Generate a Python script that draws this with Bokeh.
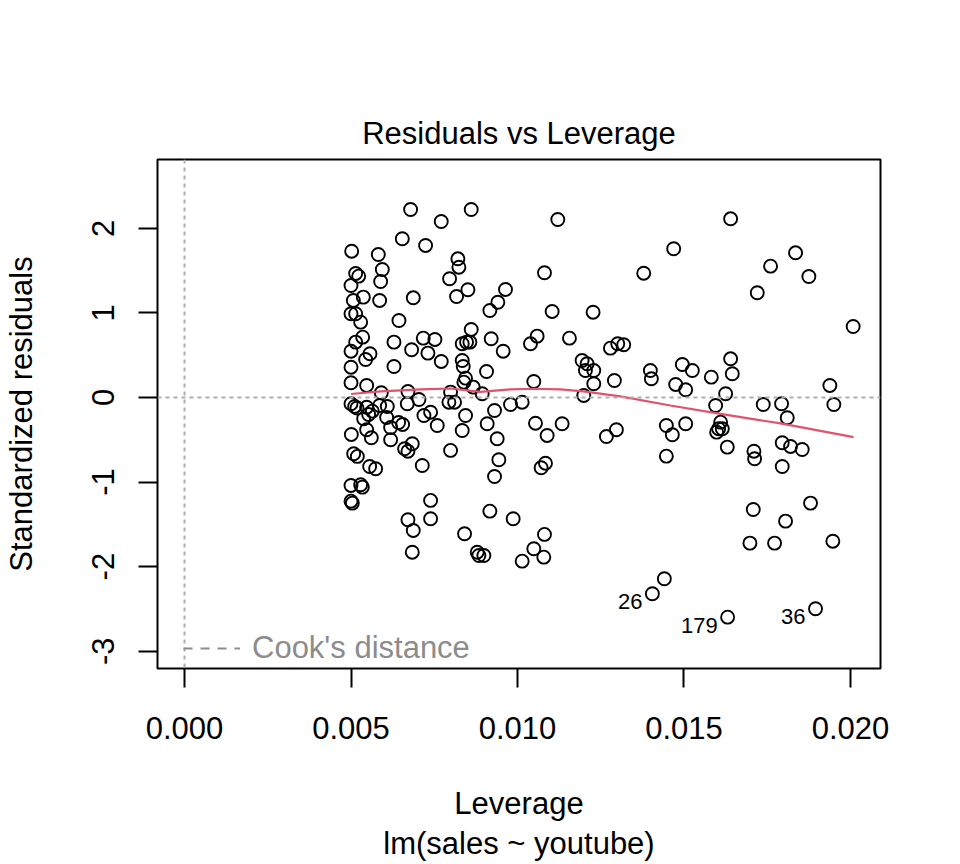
from bokeh.plotting import figure
from bokeh.models import Range1d, FixedTicker, NumeralTickFormatter, Legend, LegendItem, Span, Title
from bokeh.core.properties import value
from bokeh.embed import file_html
from bokeh.resources import INLINE

# Leverage (hat values) and standardized residuals of lm(sales ~ youtube)
leverage = [
    0.00679, 0.00771, 0.00654, 0.00724, 0.00502, 0.00582, 0.00514, 0.00523, 0.00594, 0.00589,
    0.00796, 0.00500, 0.00537, 0.00507, 0.00586, 0.00687, 0.00500, 0.00514, 0.00529, 0.00644,
    0.00535, 0.00514, 0.00629, 0.00500, 0.00557, 0.00544, 0.00682, 0.00717, 0.00752, 0.00731,
    0.00771, 0.00500, 0.00629, 0.00500, 0.00547, 0.00591, 0.00671, 0.00861, 0.01121, 0.00821,
    0.00824, 0.00851, 0.00817, 0.00964, 0.00941, 0.00917, 0.01081, 0.01104, 0.00861, 0.00834,
    0.00847, 0.00857, 0.00921, 0.00957, 0.01039, 0.01059, 0.01156, 0.00834, 0.00837, 0.00907,
    0.00844, 0.00839, 0.00867, 0.01049, 0.00894, 0.00799, 0.01469, 0.01379, 0.01227, 0.01279,
    0.01301, 0.01319, 0.01194, 0.01209, 0.01229, 0.01204, 0.01229, 0.01291, 0.01399, 0.01402,
    0.01495, 0.01525, 0.01475, 0.01505, 0.01582, 0.01199, 0.01640, 0.01835, 0.01760, 0.01875,
    0.01720, 0.02008, 0.01640, 0.01645, 0.01625, 0.01938,
    0.00500, 0.00511, 0.00518, 0.00547, 0.00564, 0.00586, 0.00609, 0.00669, 0.00704, 0.00794,
    0.00811, 0.00538, 0.00553, 0.00607, 0.00619, 0.00643, 0.00655, 0.00719, 0.00739, 0.00759,
    0.00501, 0.00547, 0.00561, 0.00619, 0.00661, 0.00671, 0.00684, 0.00508, 0.00519, 0.00556,
    0.00574, 0.00714, 0.00799, 0.00500, 0.00529, 0.00534, 0.00500, 0.00504, 0.00739, 0.00671,
    0.00687, 0.00739, 0.00684, 0.00844, 0.00834, 0.00909, 0.00931, 0.00979, 0.01014, 0.00939,
    0.00944, 0.00931, 0.01054, 0.01089, 0.01134, 0.01084, 0.01071, 0.00917, 0.00987, 0.00841,
    0.00879, 0.00884, 0.00899, 0.01014, 0.01049, 0.01081, 0.01079, 0.01595, 0.01610, 0.01604,
    0.01615, 0.01598, 0.01630, 0.01267, 0.01297, 0.01447, 0.01465, 0.01505, 0.01447, 0.01441,
    0.01738, 0.01793, 0.01950, 0.01810, 0.01710, 0.01712, 0.01795, 0.01820, 0.01855, 0.01795,
    0.01708, 0.01880, 0.01805, 0.01698, 0.01772, 0.01947,
]
std_resid = [
    2.222, 2.080, 1.876, 1.797, 1.729, 1.690, 1.466, 1.434, 1.513, 1.371,
    1.403, 1.324, 1.186, 1.147, 1.147, 1.178, 0.989, 0.989, 0.890, 0.910,
    0.713, 0.654, 0.654, 0.547, 0.517, 0.449, 0.564, 0.701, 0.686, 0.524,
    0.426, 0.358, 0.366, 0.174, 0.142, 0.056, 0.071, 2.222, 2.104, 1.639,
    1.540, 1.273, 1.194, 1.277, 1.126, 1.028, 1.474, 1.017, 0.804, 0.635,
    0.654, 0.654, 0.694, 0.547, 0.635, 0.725, 0.701, 0.437, 0.366, 0.307,
    0.228, 0.181, 0.122, 0.189, 0.044, 0.063, 1.758, 1.469, 1.008, 0.583,
    0.635, 0.623, 0.437, 0.398, 0.319, 0.319, 0.162, 0.201, 0.319, 0.221,
    0.390, 0.319, 0.154, 0.091, 0.240, 0.024, 2.112, 1.710, 1.552, 1.430,
    1.238, 0.839, 0.457, 0.280, 0.044, 0.142,
    -0.074, -0.106, -0.124, -0.115, -0.162, -0.095, -0.106, -0.074, -0.024, -0.056,
    -0.056, -0.252, -0.201, -0.236, -0.355, -0.296, -0.319, -0.213, -0.174, -0.331,
    -0.437, -0.382, -0.476, -0.500, -0.606, -0.635, -0.547, -0.665, -0.697, -0.816,
    -0.843, -0.804, -0.626, -1.040, -1.032, -1.060, -1.226, -1.249, -1.217, -1.446,
    -1.572, -1.434, -1.829, -0.213, -0.390, -0.311, -0.154, -0.083, -0.056, -0.488,
    -0.736, -0.934, -0.304, -0.449, -0.311, -0.777, -0.831, -1.344, -1.434, -1.611,
    -1.829, -1.868, -1.868, -1.935, -1.788, -1.619, -1.888, -0.095, -0.292, -0.370,
    -0.370, -0.410, -0.587, -0.461, -0.382, -0.331, -0.441, -0.311, -0.694, -2.143,
    -0.083, -0.074, -0.083, -0.240, -0.635, -0.725, -0.535, -0.579, -0.615, -0.816,
    -1.324, -1.249, -1.462, -1.722, -1.722, -1.699,
]

# The three most extreme observations, drawn and labelled by row number
flag_ids = ["26", "179", "36"]
flag_leverage = [0.01405, 0.01631, 0.01895]
flag_resid = [-2.320, -2.597, -2.498]

# Smoothed trend of the residuals against leverage
smooth_leverage = [0.00500, 0.00589, 0.00709, 0.00799, 0.00889, 0.00979, 0.01048,
                   0.01129, 0.01198, 0.01309, 0.01459, 0.01610, 0.01790, 0.02009]
smooth_resid = [0.041, 0.071, 0.095, 0.106, 0.065, 0.095, 0.103,
                0.095, 0.071, 0.012, -0.095, -0.195, -0.307, -0.469]

x_ticks = [0.0, 0.005, 0.010, 0.015, 0.020]
y_ticks = [-3, -2, -1, 0, 1, 2]
y_tick_labels = ["-3", "-2", "-1", "0", "1", "2"]

FONT = "Liberation Sans"
BIG = "31px"
GREY = "#8C8C8C"

p = figure(width=960, height=864, output_backend="svg", toolbar_location=None,
           x_range=Range1d(-0.000811, 0.020901), y_range=Range1d(-3.204, 2.813),
           min_border_left=157, min_border_right=80, min_border_top=159,
           min_border_bottom=196)

p.title.text = "Residuals vs Leverage"
p.title.align = "center"
p.title.text_font = FONT
p.title.text_font_size = BIG
p.title.text_font_style = "normal"
p.title.text_color = "black"
p.title.standoff = 18

p.xgrid.visible = False
p.ygrid.visible = False
p.outline_line_color = "black"
p.outline_line_width = 2
p.background_fill_color = "white"
p.border_fill_color = "white"

p.xaxis.ticker = FixedTicker(ticks=x_ticks)
p.xaxis.formatter = NumeralTickFormatter(format="0.000")
p.yaxis.ticker = FixedTicker(ticks=y_ticks)
p.yaxis.major_label_overrides = dict(zip(y_ticks, y_tick_labels))
p.yaxis.major_label_orientation = "vertical"
p.xaxis.axis_label = "Leverage"
p.yaxis.axis_label = "Standardized residuals"

for ax in (p.xaxis[0], p.yaxis[0]):
    ax.axis_line_color = None
    ax.major_tick_out = 19
    ax.major_tick_in = 0
    ax.major_tick_line_width = 2
    ax.major_tick_line_color = "black"
    ax.minor_tick_line_color = None
    ax.major_label_text_font = FONT
    ax.major_label_text_font_size = BIG
    ax.major_label_text_color = "black"
    ax.axis_label_text_font = FONT
    ax.axis_label_text_font_size = BIG
    ax.axis_label_text_font_style = "normal"
    ax.axis_label_text_color = "black"
p.xaxis.major_label_standoff = 29
p.yaxis.major_label_standoff = 24
p.xaxis.axis_label_standoff = 44
p.yaxis.axis_label_standoff = 51

p.add_layout(Title(text="lm(sales ~ youtube)", align="center", text_font=FONT,
                   text_font_size=BIG, text_font_style="normal", text_color="black",
                   standoff=0), "below")

# Reference lines at zero residual and zero leverage
p.add_layout(Span(location=0, dimension="width", line_color="#ADADAD",
                  line_dash="4 4", line_width=2))
p.add_layout(Span(location=0, dimension="height", line_color="#ADADAD",
                  line_dash="4 4", line_width=2))

p.scatter(leverage, std_resid, marker="circle", size=13, fill_color=None,
          line_color="black", line_width=1.9)
p.scatter(flag_leverage, flag_resid, marker="circle", size=13, fill_color=None,
          line_color="black", line_width=1.9)

p.line(smooth_leverage, smooth_resid, line_color="#DF536B", line_width=2.2)

p.text(flag_leverage, flag_resid, text=flag_ids, x_offset=-10, y_offset=8,
       text_align="right", text_baseline="middle", text_font=value(FONT),
       text_font_size="22px", text_color="black")

# Cook's distance key; a one-point line renderer carries the legend style
cook = p.line([x_ticks[0]], [y_ticks[0]], line_color=GREY, line_dash="9 8", line_width=2)
legend = Legend(items=[LegendItem(label="Cook's distance", renderers=[cook])],
                location=(26, 2), margin=0, padding=0, spacing=0,
                border_line_color=None, background_fill_alpha=0,
                label_text_font=FONT, label_text_font_size=BIG,
                label_text_color=GREY, label_standoff=12,
                glyph_width=57, glyph_height=20)
p.add_layout(legend)

open("out.html", "w").write(file_html(p, INLINE))
